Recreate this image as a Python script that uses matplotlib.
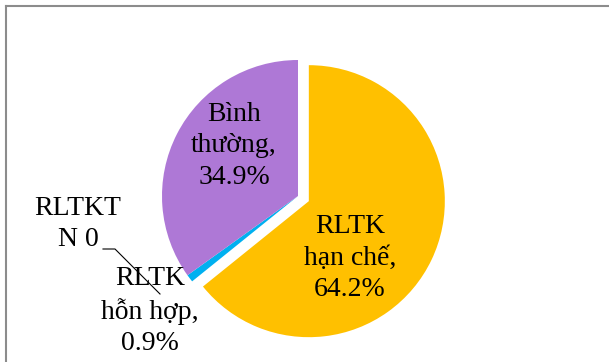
import numpy as np
import matplotlib.pyplot as plt
from matplotlib.lines import Line2D

# du lieu
nhom = ["RLTK\nhạn chế", "RLTK\nhỗn hợp", "RLTKT\nN", "Bình\nthường"]
tyle = [64.2, 0.9, 0.0, 34.9]
nhan = ["RLTK\nhạn chế,\n64.2%", "RLTK\nhỗn hợp,\n0.9%", "RLTKT\nN 0", "Bình\nthường,\n34.9%"]
mau = ["#FFC000", "#00B0F0", "#A5A5A5", "#AE78D6"]
tach = [12, 0, 0, 0]   # don vi du lieu (px)

W, H = 609, 362
fig = plt.figure(figsize=(W/100, H/100), dpi=100)
ax = fig.add_axes([0, 0, 1, 1])

ax.pie(tyle, colors=mau, explode=tach, startangle=90, counterclock=False,
       center=(298, 166), radius=136, wedgeprops=dict(linewidth=0),
       frame=True)
ax.set_xlim(0, W)
ax.set_ylim(0, H)
ax.set_aspect('equal')
ax.axis('off')

font = dict(family='Liberation Serif', fontsize=20, ha='center', va='center',
            linespacing=1.35)
vitri = [(350, 104), (150, 51), (78, 138), (234, 216)]
for (x, y), s in zip(vitri, nhan):
    ax.text(x, y, s, **font)

# duong dan cho nhan 0
ax.plot([103, 115, 160], [113, 113, 68], color='black', linewidth=0.8)

# khung
fig.add_artist(Line2D([6/W, 6/W], [0, 1-6/H], color='#8c8c8c', linewidth=1.5))
fig.add_artist(Line2D([6/W, 1], [1-6/H, 1-6/H], color='#8c8c8c', linewidth=1.5))

plt.savefig("out.png", dpi=100)
